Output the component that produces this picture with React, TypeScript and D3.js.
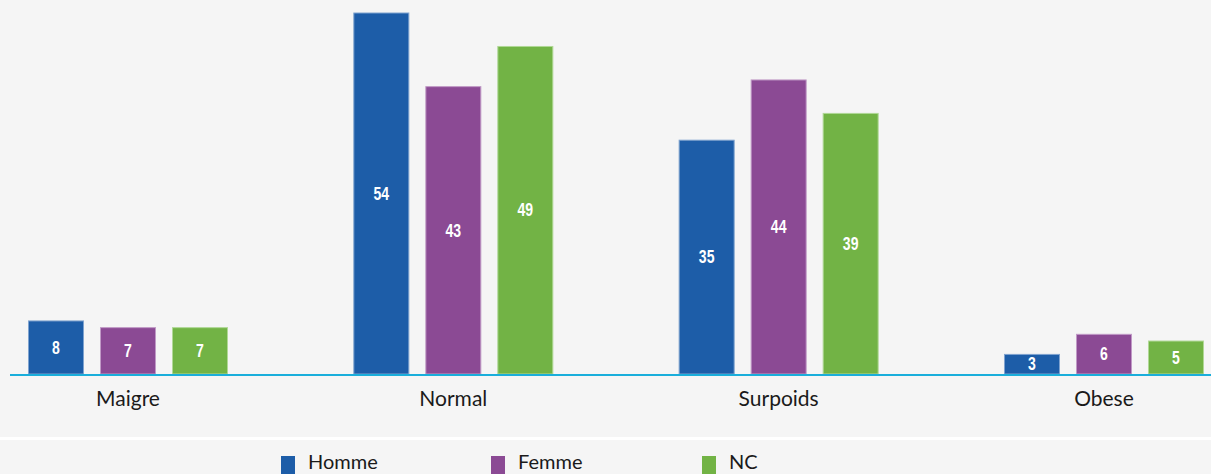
import React from "react";
import * as d3 from "d3";

const categories = ["Maigre", "Normal", "Surpoids", "Obese"];
const seriesNames = ["Homme", "Femme", "NC"];
const homme = [8, 54, 35, 3];
const femme = [7, 43, 44, 6];
const nc = [7, 49, 39, 5];
const seriesColors = ["#1d5da8", "#8b4a94", "#72b345"];
const seriesStrokes = ["#7fa3cf", "#c09ac6", "#b0d896"];

const W = 1211;
const H = 474;

export default function App() {
  const values = [homme, femme, nc];
  const groupStep = 325.33;
  const x0 = d3
    .scaleBand<string>()
    .domain(categories)
    .range([128 - groupStep / 2, 128 - groupStep / 2 + groupStep * categories.length])
    .padding(0);
  const x1 = d3
    .scaleBand<string>()
    .domain(seriesNames)
    .range([-100, 100])
    .paddingInner(16 / 72)
    .paddingOuter(0);
  const y = d3.scaleLinear().domain([0, 54]).range([374, 12.5]);

  const legendX = [281, 491, 702];

  return (
    <svg
      width={W}
      height={H}
      style={{ position: "absolute", left: 0, top: 0, display: "block" }}
    >
      <rect x={0} y={0} width={W} height={H} fill="#f5f5f5" />
      <rect x={0} y={437} width={W} height={3} fill="#ffffff" />
      {categories.map((c, ci) => {
        const cx = (x0(c) as number) + x0.bandwidth() / 2;
        return (
          <g key={c}>
            {seriesNames.map((s, si) => {
              const v = values[si][ci];
              const bx = cx + (x1(s) as number);
              const by = y(v);
              const bh = y(0) - by;
              const lx = bx + x1.bandwidth() / 2;
              const ly = by + bh / 2;
              return (
                <g key={s}>
                  <rect
                    x={bx + 0.5}
                    y={by + 0.5}
                    width={x1.bandwidth() - 1}
                    height={bh - 0.5}
                    fill={seriesColors[si]}
                    stroke={seriesStrokes[si]}
                    strokeWidth={1}
                  />
                  <text
                    transform={`translate(${lx},${ly}) scale(0.78,1)`}
                    dy="0.36em"
                    textAnchor="middle"
                    fill="#ffffff"
                    fontFamily="'Liberation Sans', Arial, sans-serif"
                    fontWeight="bold"
                    fontSize={18}
                  >
                    {v}
                  </text>
                </g>
              );
            })}
            <text
              x={cx}
              y={406}
              textAnchor="middle"
              fill="#1a1a1a"
              fontFamily="Lato, 'Open Sans', sans-serif"
              fontSize={21}
            >
              {c}
            </text>
          </g>
        );
      })}
      <line x1={10} x2={W} y1={375} y2={375} stroke="#1aaedb" strokeWidth={2} />
      {seriesNames.map((s, si) => (
        <g key={s}>
          <rect x={legendX[si]} y={456} width={14} height={18} fill={seriesColors[si]} />
          <text
            x={legendX[si] + 27}
            y={469}
            fill="#1a1a1a"
            fontFamily="Lato, 'Open Sans', sans-serif"
            fontSize={20}
          >
            {s}
          </text>
        </g>
      ))}
    </svg>
  );
}
